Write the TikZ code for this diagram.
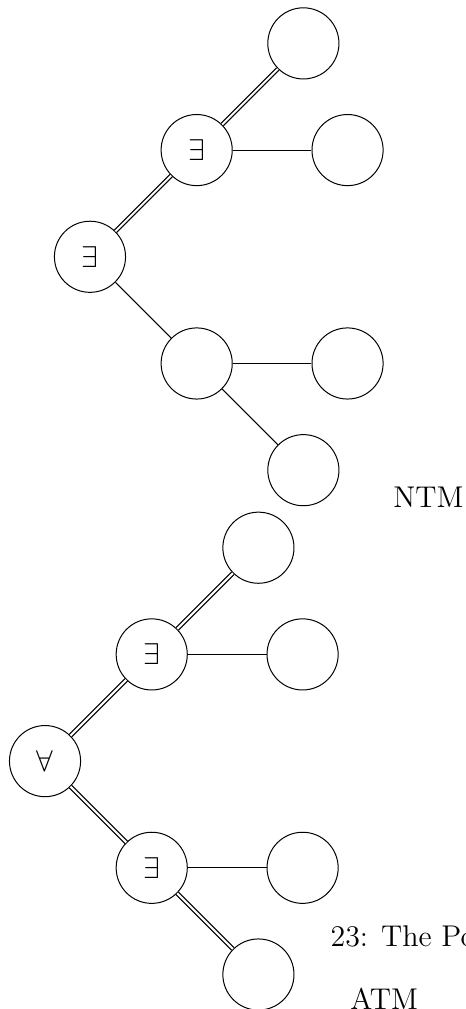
\documentclass[12pt,tikz,border=0pt]{standalone}
\usepackage{amsmath,amssymb}
\usepackage{tikz}

\begin{document}
\begin{tikzpicture}[
    state/.style={circle, draw, minimum size=1cm, inner sep=0pt},
    run/.style={double, line width=0.5pt, double distance=0.8pt}
  ]
        \useasboundingbox (0,0) rectangle (6.551,-14.185);

        \node[state] (n0) at (1.265,-3.610) {$\exists$};
        \node[state] (n1) at (2.765,-2.110) {$\exists$};
        \node[state] (n2) at (4.265,-0.610) {};
        \node[state] (n3) at (4.886,-2.110) {};
        \node[state] (n4) at (2.765,-5.110) {};
        \node[state] (n5) at (4.886,-5.110) {};
        \node[state] (n6) at (4.265,-6.610) {};

        \draw[run] (n0) -- (n1);
        \draw[run] (n1) -- (n2);
        \draw (n1) -- (n3);
        \draw (n0) -- (n4);
        \draw (n4) -- (n5);
        \draw (n4) -- (n6);

        \node[anchor=base] (ntm) at (6.024,-7.128) {NTM};

        \node[state] (a0) at (0.633,-10.700) {$\forall$};
        \node[state] (a1) at (2.133,-9.200) {$\exists$};
        \node[state] (a2) at (3.633,-7.700) {};
        \node[state] (a3) at (4.254,-9.200) {};
        \node[state] (a4) at (2.133,-12.200) {$\exists$};
        \node[state] (a5) at (4.254,-12.200) {};
        \node[state] (a6) at (3.633,-13.700) {};

        \draw[run] (a0) -- (a1);
        \draw[run] (a1) -- (a2);
        \draw (a1) -- (a3);
        \draw[run] (a0) -- (a4);
        \draw (a4) -- (a5);
        \draw[run] (a4) -- (a6);

        \node[anchor=base west, inner sep=0pt] (cap) at (4.640,-13.300) {23: The Po};
        \node[anchor=base] (atm) at (5.400,-14.190) {ATM};
    \end{tikzpicture}
\end{document}
